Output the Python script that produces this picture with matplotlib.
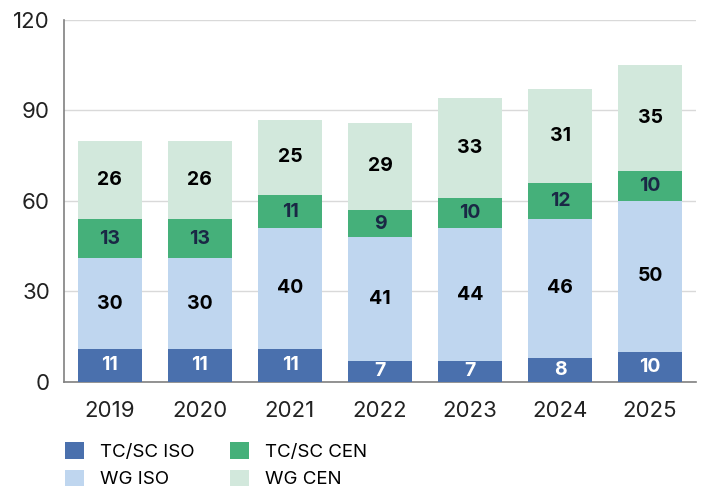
import matplotlib
matplotlib.use("Agg")
import matplotlib.pyplot as plt
import numpy as np
from matplotlib.patches import Patch

years = ["2019", "2020", "2021", "2022", "2023", "2024", "2025"]
tcsc_iso = [11, 11, 11, 7, 7, 8, 10]
wg_iso = [30, 30, 40, 41, 44, 46, 50]
tcsc_cen = [13, 13, 11, 9, 10, 12, 10]
wg_cen = [26, 26, 25, 29, 33, 31, 35]

series = [
    ("TC/SC ISO", tcsc_iso, "#4a70ad", "white"),
    ("WG ISO", wg_iso, "#bfd6ef", "black"),
    ("TC/SC CEN", tcsc_cen, "#45b07a", "#1a2845"),
    ("WG CEN", wg_cen, "#d2e8dc", "black"),
]

plt.rcParams['font.family'] = ['Inter', 'DejaVu Sans']

fig = plt.figure(figsize=(7.03, 4.87), dpi=100)
ax = fig.add_axes([0.091, 0.2156, 0.899, 0.7434])

x = np.arange(len(years))
bottom = np.zeros(len(years))
for name, vals, color, tcol in series:
    vals = np.array(vals, dtype=float)
    ax.bar(x, vals, 0.71, bottom=bottom, color=color, label=name, zorder=3)
    for xi, b, v in zip(x, bottom, vals):
        ax.text(xi, b + v / 2, f"{int(v)}", ha="center", va="center",
                fontsize=14, fontweight="bold", color=tcol, zorder=4)
    bottom += vals

ax.set_xlim(-0.51, 6.51)
ax.set_ylim(0, 120)
ax.set_yticks([0, 30, 60, 90, 120])
ax.set_xticks(x)
ax.set_xticklabels(years)
ax.tick_params(axis="both", length=0, labelsize=16, colors="#222222")
ax.tick_params(axis="x", pad=14)
ax.tick_params(axis="y", pad=10)
ax.yaxis.grid(True, color="#d9d9d9", linewidth=1, zorder=0)
for s in ["top", "right"]:
    ax.spines[s].set_visible(False)
for s in ["left", "bottom"]:
    ax.spines[s].set_color("#808080")
    ax.spines[s].set_linewidth(1.2)

handles = [Patch(facecolor=s[2], label=s[0]) for s in series]
fig.legend(handles=handles, loc="upper left", bbox_to_anchor=(0.082, 0.107),
           ncol=2, frameon=False, fontsize=13.5, handlelength=1.0, handleheight=1.0,
           columnspacing=1.9, handletextpad=0.85, labelspacing=0.45, borderaxespad=0)

fig.savefig("out.png", dpi=100)
